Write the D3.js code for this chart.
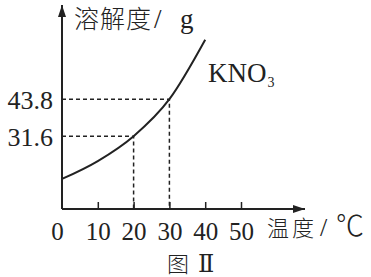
<!DOCTYPE html>
<html>
<head>
<meta charset="utf-8">
<script src="https://cdn.jsdelivr.net/npm/d3@7"></script>
<style>
  body { margin: 0; background: #fff; }
  svg { display: block; }
  .num { font-family: "Liberation Serif", "DejaVu Serif", serif; fill: #222; }
  .cjk { font-family: "Noto Sans CJK SC", sans-serif; font-weight: 300; fill: #222; }
</style>
</head>
<body>
<svg id="chart"></svg>
<script>
// temperature (°C) and KNO3 solubility (g)
const temps = [0, 10, 20, 30, 40];
const solubility = [17.5, 23.4, 31.6, 43.8, 63.4];
const xTicks = [0, 10, 20, 30, 40, 50];
const marked = [{ t: 20, s: 31.6 }, { t: 30, s: 43.8 }];

const width = 371, height = 277;
const svg = d3.select("#chart").attr("width", width).attr("height", height);

const x = d3.scaleLinear().domain([0, 50]).range([62, 241]);
const y = d3.scaleLinear().domain([0, 70]).range([232, 232 - 3.033 * 70]);

const x0 = x(0), yBase = 209;
const xEnd = 305, yTop = 5;

svg.append("defs").append("marker")
    .attr("id", "arrow")
    .attr("viewBox", "0 -5 12 10")
    .attr("refX", 12)
    .attr("refY", 0)
    .attr("markerWidth", 12)
    .attr("markerHeight", 10)
    .attr("markerUnits", "userSpaceOnUse")
    .attr("orient", "auto")
    .append("path")
    .attr("d", "M0,-4L12,0L0,4Z")
    .attr("fill", "#222");

// axes lines
svg.append("line")
    .attr("x1", x0).attr("y1", yBase)
    .attr("x2", xEnd).attr("y2", yBase)
    .attr("stroke", "#222").attr("stroke-width", 2)
    .attr("marker-end", "url(#arrow)");
svg.append("line")
    .attr("x1", x0).attr("y1", yBase)
    .attr("x2", x0).attr("y2", yTop)
    .attr("stroke", "#222").attr("stroke-width", 2)
    .attr("marker-end", "url(#arrow)");

// x ticks
const xAxis = d3.axisBottom(x)
    .tickValues(xTicks)
    .tickSizeInner(-7)
    .tickSizeOuter(0)
    .tickPadding(13)
    .tickFormat(d3.format("d"));
const gx = svg.append("g").attr("transform", `translate(0,${yBase})`).call(xAxis);
gx.select(".domain").remove();
gx.selectAll(".tick line").attr("stroke", "#222").attr("stroke-width", 1.5)
    .filter(d => d === 0).remove();
gx.attr("font-size", null).attr("font-family", null);
gx.selectAll(".tick text").attr("class", "num").attr("fill", null)
    .style("font-size", "25px").attr("dy", "0.71em");
gx.selectAll(".tick").filter(d => d === 0).select("text").attr("dx", -5);

// dashed guide lines
marked.forEach(m => {
    svg.append("path")
        .attr("d", `M${x0},${y(m.s)}H${x(m.t)}V${yBase}`)
        .attr("fill", "none")
        .attr("stroke", "#222")
        .attr("stroke-width", 1.5)
        .attr("stroke-dasharray", "4,3");
    svg.append("text")
        .attr("class", "num")
        .style("font-size", "26px")
        .attr("x", x0 - 9)
        .attr("y", y(m.s) + 10)
        .attr("text-anchor", "end")
        .text(m.s.toFixed(1));
});

// curve
const line = d3.line()
    .x(d => x(d[0]))
    .y(d => y(d[1]))
    .curve(d3.curveMonotoneX);
svg.append("path")
    .datum(d3.zip(temps, solubility))
    .attr("d", line)
    .attr("fill", "none")
    .attr("stroke", "#222")
    .attr("stroke-width", 2);

// labels
const kno3 = svg.append("text").attr("class", "num").style("font-size", "27px").attr("x", 208).attr("y", 82);
kno3.append("tspan").text("KNO");
kno3.append("tspan").style("font-size", "14px").attr("dy", 5).attr("dx", 1).text("3");

const yl = svg.append("text").attr("y", 28);
yl.append("tspan").attr("class", "cjk").attr("x", 74).style("font-size", "25px").attr("letter-spacing", 1).text("溶解度");
yl.append("tspan").attr("class", "num").attr("x", 154).style("font-size", "27px").text("/");
yl.append("tspan").attr("class", "num").attr("x", 180).style("font-size", "27px").text("g");

const xl = svg.append("text").attr("y", 236);
xl.append("tspan").attr("class", "cjk").attr("x", 267).style("font-size", "22px").attr("letter-spacing", 3).text("温度");
xl.append("tspan").attr("class", "num").attr("x", 320).style("font-size", "26px").text("/");
xl.append("tspan").attr("class", "cjk").attr("x", 336).style("font-size", "28px").text("℃");

const cap = svg.append("text").attr("x", 167).attr("y", 272);
cap.append("tspan").attr("class", "cjk").style("font-size", "22px").text("图");
cap.append("tspan").attr("class", "num").style("font-size", "24px").attr("dx", 9).text("Ⅱ");
</script>
</body>
</html>
